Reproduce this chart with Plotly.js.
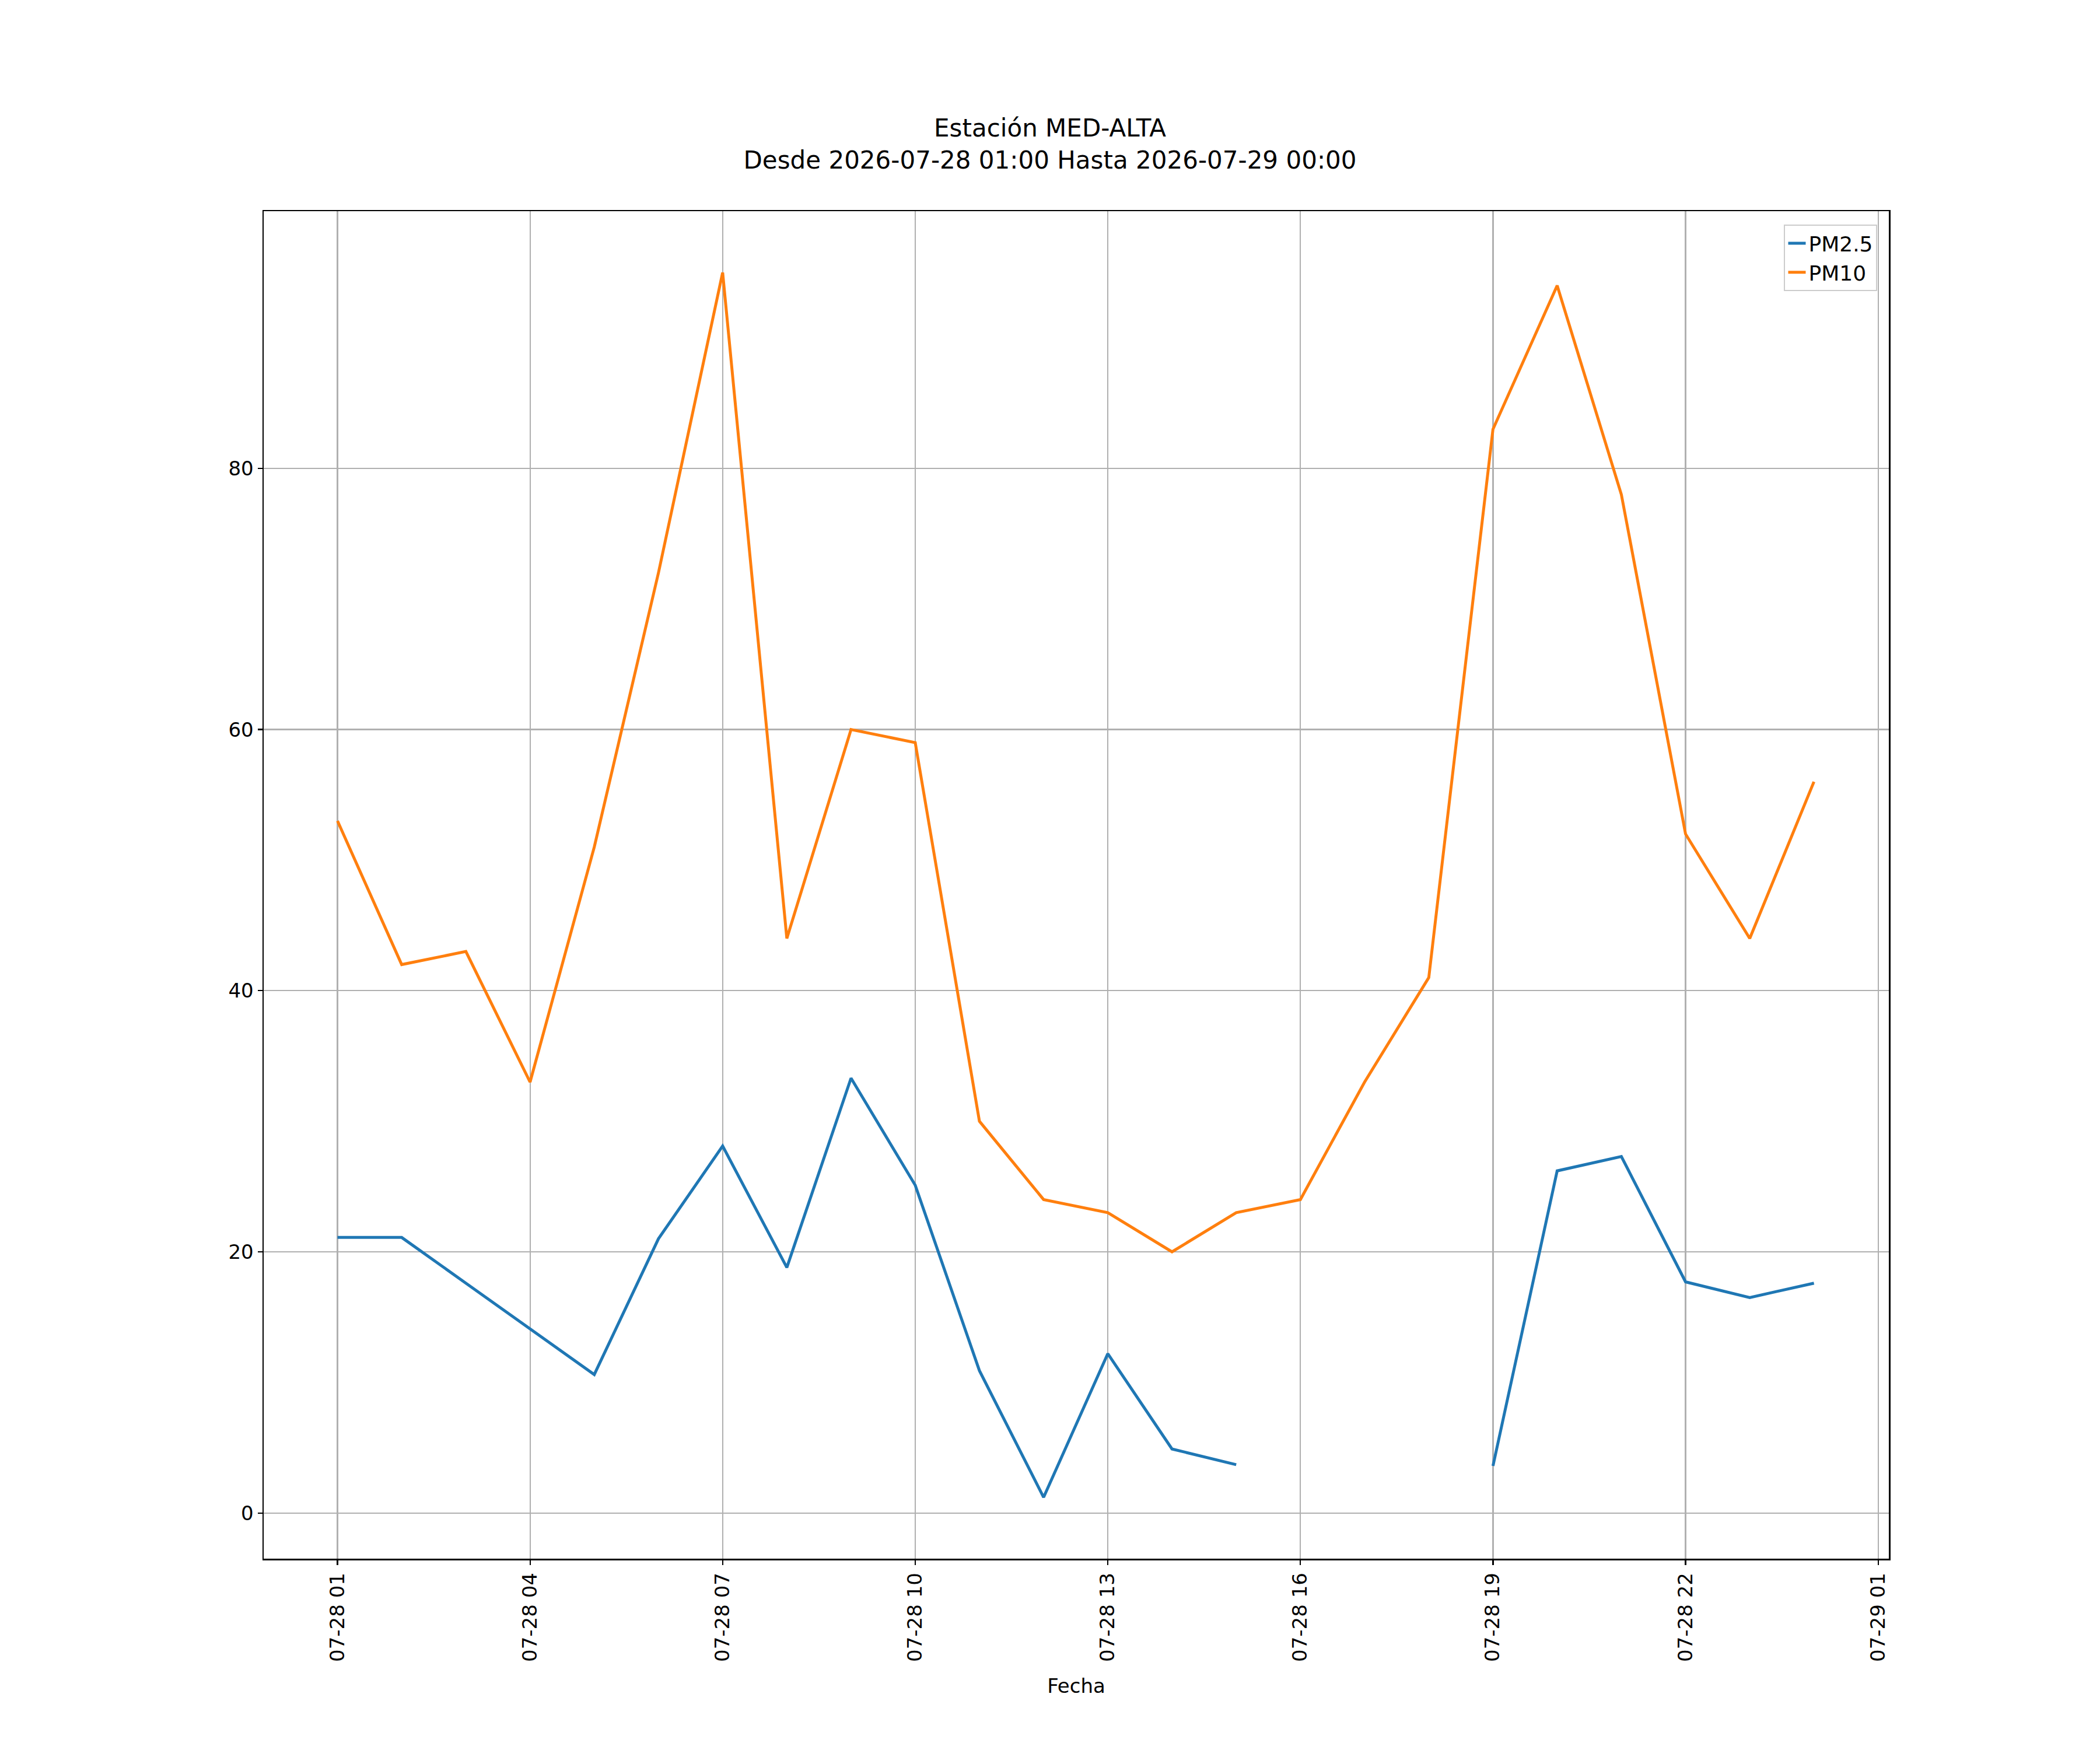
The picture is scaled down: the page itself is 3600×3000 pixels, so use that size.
<!DOCTYPE html>
<html>
<head>
<meta charset="utf-8">
<script src="https://cdn.plot.ly/plotly-3.0.1.min.js"></script>
<style>body{margin:0;background:#fff}</style>
</head>
<body>
<div id="chart" style="width:3600px;height:3000px"></div>
<script>
const hours = ["2026-07-28 01:00","2026-07-28 02:00","2026-07-28 03:00","2026-07-28 04:00","2026-07-28 05:00","2026-07-28 06:00",
  "2026-07-28 07:00","2026-07-28 08:00","2026-07-28 09:00","2026-07-28 10:00","2026-07-28 11:00","2026-07-28 12:00",
  "2026-07-28 13:00","2026-07-28 14:00","2026-07-28 15:00","2026-07-28 16:00","2026-07-28 17:00","2026-07-28 18:00",
  "2026-07-28 19:00","2026-07-28 20:00","2026-07-28 21:00","2026-07-28 22:00","2026-07-28 23:00","2026-07-29 00:00"];
const pm25 = [21.1,21.1,17.6,14.1,10.6,21.0,28.1,18.8,33.3,25.1,10.9,1.2,12.2,4.9,3.7,null,null,null,3.6,26.2,27.3,17.7,16.5,17.6];
const pm10 = [53,42,43,33,51,72,95,44,60,59,30,24,23,20,23,24,33,41,83,94,78,52,44,56];
const tickVals = ["2026-07-28 01:00","2026-07-28 04:00","2026-07-28 07:00","2026-07-28 10:00","2026-07-28 13:00",
  "2026-07-28 16:00","2026-07-28 19:00","2026-07-28 22:00","2026-07-29 01:00"];
const tickText = ["07-28 01","07-28 04","07-28 07","07-28 10","07-28 13","07-28 16","07-28 19","07-28 22","07-29 01"];

const traces = [
  {x: hours, y: pm25, name: "PM2.5", mode: "lines", line: {color: "#1f77b4", width: 5}, connectgaps: false},
  {x: hours, y: pm10, name: "PM10", mode: "lines", line: {color: "#ff7f0e", width: 5}}
];

const axisCommon = {
  showline: true, mirror: true, linecolor: "#000", linewidth: 2.5,
  showgrid: true, gridcolor: "#b0b0b0", gridwidth: 2.3,
  ticks: "outside", ticklen: 8, tickwidth: 2.3, tickcolor: "#000",
  zeroline: false, tickfont: {size: 34, color: "#000"}
};

const layout = {
  width: 3600, height: 3000,
  paper_bgcolor: "#fff", plot_bgcolor: "#fff",
  font: {family: "DejaVu Sans", color: "#000"},
  margin: {l: 452, r: 343, t: 362, b: 316},
  title: {text: "Estación MED-ALTA<br>Desde 2026-07-28 01:00 Hasta 2026-07-29 00:00",
    font: {size: 42}, x: 0.5, xanchor: "center", y: 0.922, yanchor: "top"},
  xaxis: Object.assign({}, axisCommon, {
    type: "date", range: ["2026-07-27 23:51", "2026-07-29 01:10"],
    tickvals: tickVals, ticktext: tickText, tickangle: -90,
    title: {text: "Fecha", font: {size: 34}, standoff: 30}
  }),
  yaxis: Object.assign({}, axisCommon, {
    range: [-3.5, 99.7], tickvals: [0, 20, 40, 60, 80]
  }),
  legend: {x: 0.993, y: 0.99, xanchor: "right", yanchor: "top",
    bordercolor: "#ccc", borderwidth: 2, bgcolor: "#fff", font: {size: 36}},
  showlegend: true
};

Plotly.newPlot("chart", traces, layout, {staticPlot: true}).then(function () {
  // nudge the plot area so it matches the reference edges
  Plotly.relayout("chart", {"margin.r": 362, "margin.b": 328});
});
</script>
</body>
</html>
